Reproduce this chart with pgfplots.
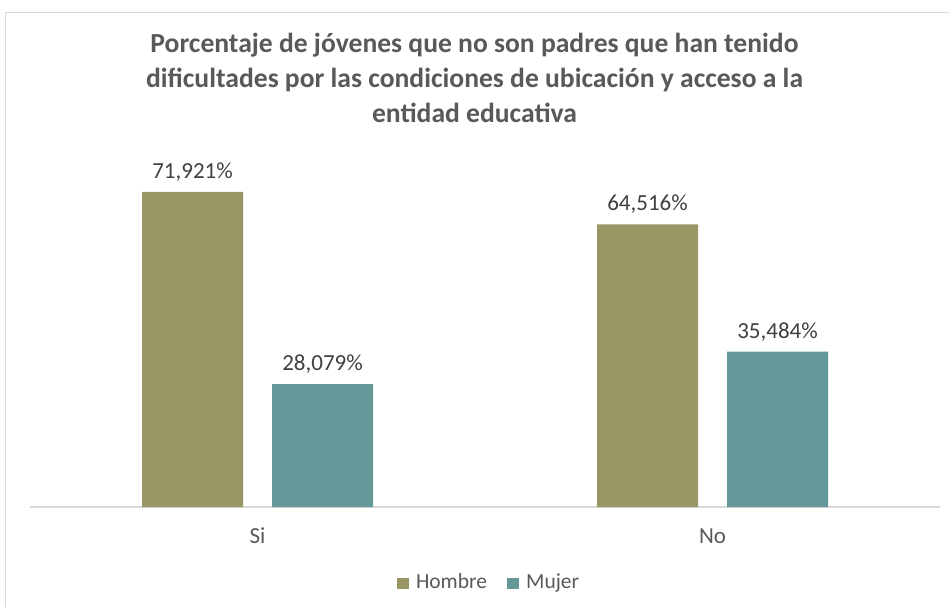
\documentclass[border=0pt]{standalone}
\usepackage{pgfplots}
\pgfplotsset{compat=1.18}
\usepackage{fontspec}
\setmainfont{Carlito}
\definecolor{hombre}{RGB}{152,151,100}
\definecolor{mujer}{RGB}{101,153,153}
\definecolor{txt}{RGB}{89,89,89}
\definecolor{lbl}{RGB}{64,64,64}
\definecolor{brd}{RGB}{217,217,217}
\begin{document}
\begin{tikzpicture}
\useasboundingbox (0,0) rectangle (949pt,606pt);
\fill[white] (0,0) rectangle (949pt,606pt);
\draw[brd, line width=1.5pt] (5.5pt,-10pt) rectangle (960pt,593.5pt);
\node[text=txt, font=\fontsize{27.6}{35}\selectfont\bfseries, anchor=base, inner sep=0pt] at (474.5pt,553pt) {Porcentaje de jóvenes que no son padres que han tenido};
\node[text=txt, font=\fontsize{27.6}{35}\selectfont\bfseries, anchor=base, inner sep=0pt] at (474.5pt,518pt) {dificultades por las condiciones de ubicación y acceso a la};
\node[text=txt, font=\fontsize{27.6}{35}\selectfont\bfseries, anchor=base, inner sep=0pt] at (474.5pt,483pt) {entidad educativa};
\begin{axis}[
  at={(30pt,99pt)}, anchor=south west,
  scale only axis, width=910pt, height=350.4pt,
  xmin=-0.5, xmax=1.5, ymin=0, ymax=80,
  axis x line=bottom, axis y line=none,
  x axis line style={brd, line width=1.5pt, -},
  xtick={0,1}, xticklabels={Si,No}, major tick length=0pt,
  xticklabel style={font=\fontsize{23}{28}\selectfont, text=txt, anchor=base, yshift=-36pt},
  ybar=29pt, bar width=101pt,
  /pgf/number format/assume math mode=true,
  nodes near coords={\pgfmathprintnumber[fixed,precision=3,fixed zerofill,use comma]{\pgfplotspointmeta}\%},
  nodes near coords style={font=\fontsize{23}{28}\selectfont, text=lbl, anchor=base, yshift=13.5pt},
  legend columns=2,
  legend style={at={(0.4033,-0.2140)}, anchor=west, draw=none, fill=none,
    inner sep=0pt, outer sep=0pt, font=\fontsize{21.5}{26}\selectfont, text=txt,
    nodes={inner sep=0pt}, cells={anchor=base west},
    /tikz/column sep=7pt,
    /tikz/every even column/.append style={column sep=20pt}},
]
\addplot[fill=hombre, draw=none, legend image code/.code={\fill[hombre] (0pt,0pt) rectangle (12pt,11pt);}] coordinates {(0,71.921) (1,64.516)};
\addplot[fill=mujer, draw=none, legend image code/.code={\fill[mujer] (0pt,0pt) rectangle (12pt,11pt);}] coordinates {(0,28.079) (1,35.484)};
\legend{Hombre,Mujer}
\end{axis}
\end{tikzpicture}
\end{document}
